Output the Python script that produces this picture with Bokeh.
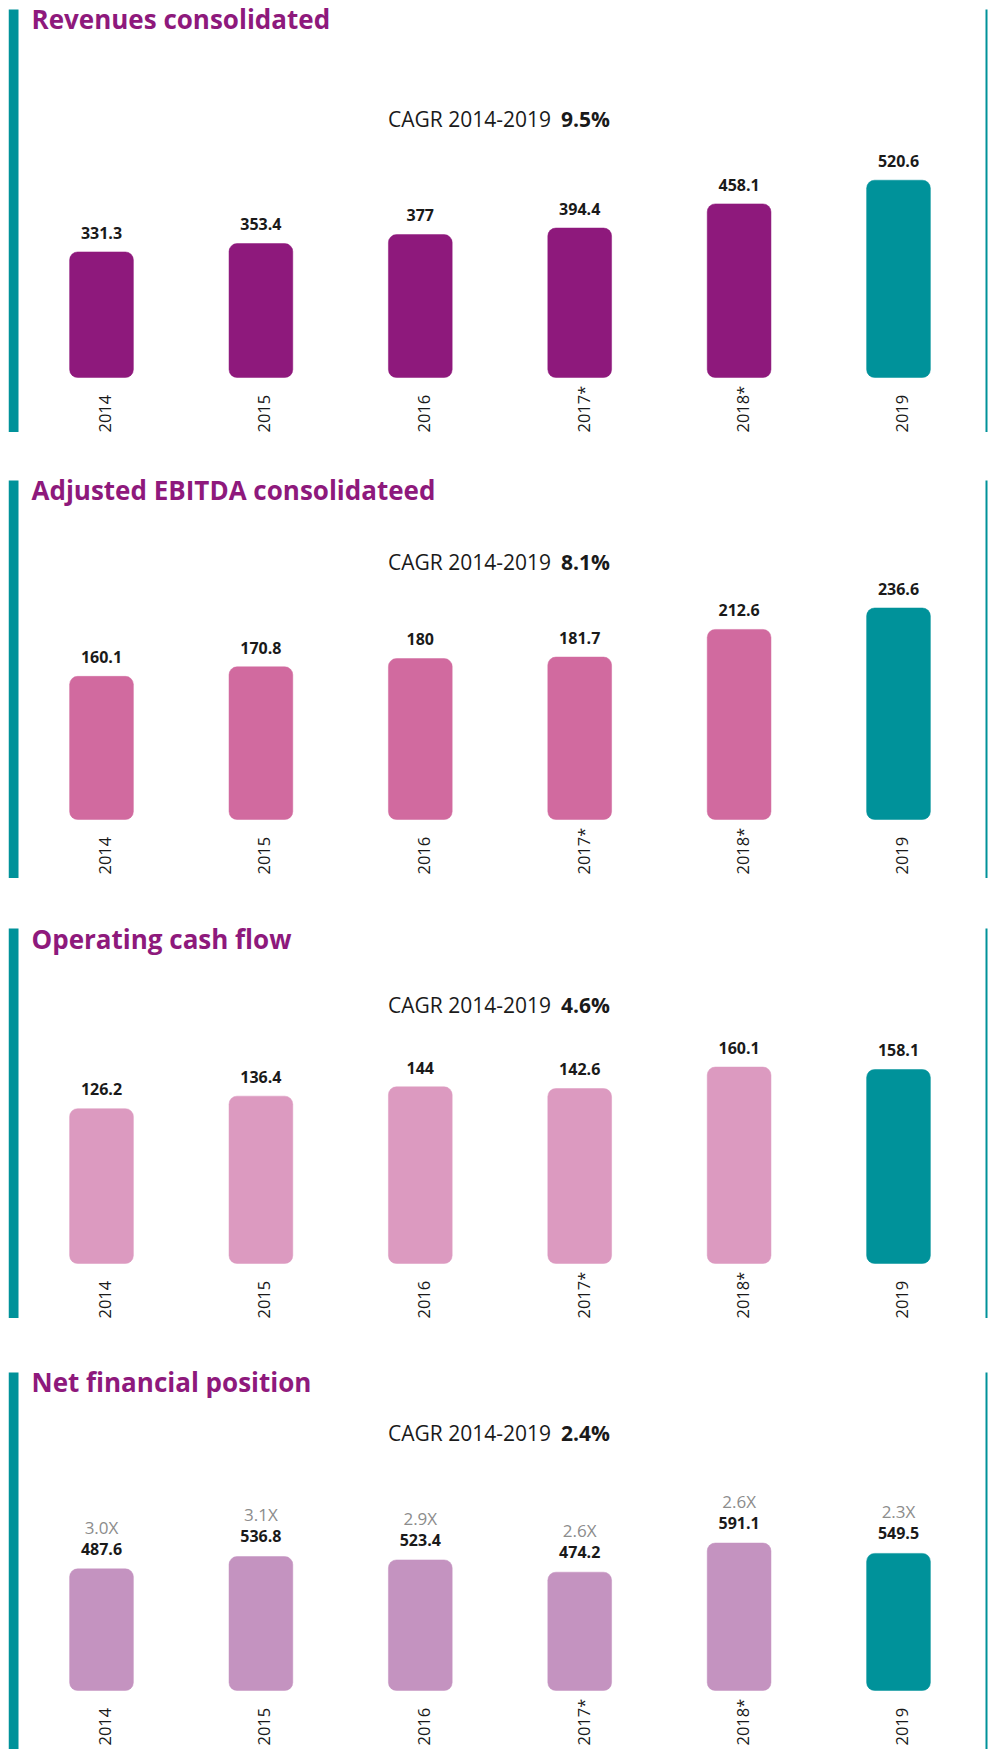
import math
from bokeh.plotting import figure
from bokeh.models import Range1d, BoxAnnotation, Spacer, ColumnDataSource
from bokeh.layouts import column, row
from bokeh.core.properties import value
from bokeh.embed import file_html
from bokeh.resources import INLINE

# ---------------- data ----------------
years = ["2014", "2015", "2016", "2017*", "2018*", "2019"]

revenues = [331.3, 353.4, 377.0, 394.4, 458.1, 520.6]
ebitda = [160.1, 170.8, 180.0, 181.7, 212.6, 236.6]
cash_flow = [126.2, 136.4, 144.0, 142.6, 160.1, 158.1]
net_fin_pos = [487.6, 536.8, 523.4, 474.2, 591.1, 549.5]
leverage = ["3.0X", "3.1X", "2.9X", "2.6X", "2.6X", "2.3X"]

titles = ["Revenues consolidated", "Adjusted EBITDA consolidateed",
          "Operating cash flow", "Net financial position"]
cagr_label = "CAGR 2014-2019"
cagr_values = ["9.5%", "8.1%", "4.6%", "2.4%"]

# ---------------- style ----------------
FONT = value("Open Sans")
PURPLE = "#8E197C"
TEAL = "#00929A"
TEXT = "#1A1A1A"
GREY = "#8C8C8C"
BAR_COLORS = ["#8E197C", "#D16A9F", "#DC9AC0", "#C493C0"]

W = 980
FIRST_CENTER = 93.0   # px of first bar centre from figure left
STEP = 159.4          # px between bar centres
BL = 0.39             # baseline correction (em) for the renderer

# per panel: gap above, panel height, px from panel top to zero line,
# px per unit, title baseline, cagr baseline
LAYOUT = [
    dict(gap=9, h=423, zero=368, ppu=0.379, tb=20, cb=118),
    dict(gap=48, h=398, zero=339, ppu=0.894, tb=20, cb=90),
    dict(gap=50, h=390, zero=335, ppu=1.227, tb=21, cb=85),
    dict(gap=54, h=377, zero=318, ppu=0.2495, tb=20, cb=69),
]


def make_panel(i, vals, extra=None):
    L = LAYOUT[i]
    xs = list(range(len(years)))
    x0 = -FIRST_CENTER / STEP
    x1 = x0 + W / STEP
    ytop = L["zero"] / L["ppu"]                      # panel top
    y1 = (L["zero"] + L["gap"]) / L["ppu"]           # figure top
    y0 = -(L["h"] - L["zero"]) / L["ppu"]            # figure bottom
    p = figure(width=W, height=L["h"] + L["gap"], x_range=Range1d(x0, x1),
               y_range=Range1d(y0, y1),
               x_axis_type=None, y_axis_type=None, toolbar_location=None, tools="",
               output_backend="svg", min_border=0, outline_line_color=None)
    p.background_fill_color = "white"
    p.border_fill_color = "white"

    # side accents
    p.add_layout(BoxAnnotation(left=0, right=10, left_units="screen", right_units="screen",
                               bottom=y0, top=ytop, fill_color=TEAL, fill_alpha=1.0,
                               line_color=None, level="underlay"))
    p.add_layout(BoxAnnotation(left=W - 3, right=W - 1, left_units="screen",
                               right_units="screen", bottom=y0, top=ytop, fill_color=TEAL,
                               fill_alpha=1.0, line_color=None, level="underlay"))

    colors = [BAR_COLORS[i]] * (len(years) - 1) + [TEAL]
    src = ColumnDataSource(dict(x=xs, top=vals, color=colors,
                                lab=[f"{v:g}" for v in vals], zero=[0] * len(xs), yr=years))
    p.vbar(x="x", top="top", bottom=0, width=0.4, fill_color="color", line_color="color",
           line_width=0.5, border_radius=8, source=src)
    val_gap = 13 if extra is None else 14
    p.text(x="x", y="top", text="lab", source=src, text_font=FONT, text_font_size=value("16px"),
           text_font_style="bold", text_color=TEXT, text_align="center",
           text_baseline="alphabetic", y_offset=-val_gap - BL * 16)
    if extra is not None:
        src.data["extra"] = extra
        p.text(x="x", y="top", text="extra", source=src, text_font=FONT,
               text_font_size=value("17px"), text_color=GREY, text_align="center",
               text_baseline="alphabetic", y_offset=-val_gap - 21 - BL * 17)
    # year labels (rotated)
    p.text(x="x", y="zero", text="yr", source=src, text_font=FONT, text_font_size=value("16.5px"),
           text_color=TEXT, angle=math.pi / 2, text_align="left", text_baseline="alphabetic",
           x_offset=10 - BL * 16.5, y_offset=55)
    # title
    p.text(x=[x0], y=[ytop], text=[titles[i]], text_font=FONT, text_font_size=value("26px"),
           text_font_style="bold", text_color=PURPLE, text_align="left",
           text_baseline="alphabetic", x_offset=23, y_offset=L["tb"] - BL * 26)
    # CAGR
    xmid = (xs[0] + xs[-1]) / 2
    p.text(x=[xmid], y=[ytop], text=[cagr_label], text_font=FONT, text_font_size=value("21px"),
           text_color=TEXT, text_align="right", text_baseline="alphabetic",
           x_offset=51, y_offset=L["cb"] - BL * 21)
    p.text(x=[xmid], y=[ytop], text=[cagr_values[i]], text_font=FONT,
           text_font_size=value("21px"), text_font_style="bold", text_color=TEXT,
           text_align="left", text_baseline="alphabetic",
           x_offset=61, y_offset=L["cb"] - BL * 21)
    return p


p1 = make_panel(0, revenues)
p2 = make_panel(1, ebitda)
p3 = make_panel(2, cash_flow)
p4 = make_panel(3, net_fin_pos, extra=leverage)

col = column(p1, p2, p3, p4, spacing=0)
layout = row(Spacer(width=8, height=10), col, spacing=0)

open("out.html", "w").write(file_html(layout, INLINE))
